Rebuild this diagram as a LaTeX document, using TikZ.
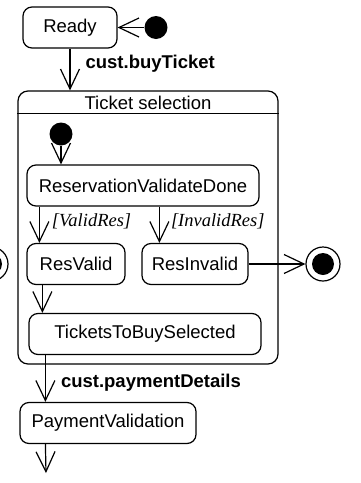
\documentclass[tikz,border=0pt]{standalone}
\usepackage{fontspec}
\setmainfont{Liberation Sans}
\newfontfamily\guardfont{Liberation Serif}
\usetikzlibrary{arrows.meta}
\newcommand\diagsize{\fontsize{18.5}{21}\selectfont}

\tikzset{
  state/.style={draw, rounded corners=9pt, minimum height=41pt, inner sep=0pt, font=\diagsize},
  evt/.style={font=\diagsize\bfseries, inner sep=0pt},
  guard/.style={font=\diagsize\guardfont\itshape, inner sep=0pt},
  startdot/.style={circle, fill=black, minimum size=23pt, inner sep=0pt},
  enddot/.style={circle, draw, fill=white, minimum size=34pt, inner sep=0pt}
}

\begin{document}
\begin{tikzpicture}[x=1pt,y=-1pt,line width=1.2pt,>={Straight Barb[length=20pt,width=19pt]}]
        \useasboundingbox (0,0) rectangle (361,483);

        % the outer states
        \node[state, minimum width=94pt] (ready) at (70,27.5) {Ready};
        \node[startdot] (start) at (156,27.5) {};
        \node[state, minimum width=176pt] (payval) at (108,423) {PaymentValidation};

        % the composite state and its title
        \node[draw, rounded corners=10pt, minimum width=260pt, minimum height=273pt] (sel) at (148,227.5) {};
        \node[font=\diagsize, inner sep=0pt] (seltitle) at (148,103) {Ticket selection};
        \draw ([yshift=-23pt]sel.north west) -- ([yshift=-23pt]sel.north east);

        % the states inside the composite
        \node[startdot] (selstart) at (61,134) {};
        \node[state, minimum width=232pt] (rvd) at (143,185.5) {ReservationValidateDone};
        \node[state, minimum width=98pt] (resvalid) at (76,264) {ResValid};
        \node[state, minimum width=106pt] (resinvalid) at (195,264) {ResInvalid};
        \node[state, minimum width=232pt] (tbs) at (145,334) {TicketsToBuySelected};

        % the final states
        \node[enddot] (fin) at (323,264) {};
        \fill (fin) circle (11pt);
        \node[enddot] (finleft) at (-9,264) {};
        \fill (finleft) circle (11pt);

        \coordinate (out) at (46,473);

        % draw the transitions
        \draw[->] (start.west) -- (ready.east);
        \draw[->] (ready.south) -- (ready.south |- sel.north)
              node[evt, pos=0.35, right=15pt] (buy) {cust.buyTicket};
        \draw[->] (selstart) -- (selstart |- rvd.north);
        \draw[->] ([xshift=13pt]rvd.south west) -- ([xshift=13pt]resvalid.north west)
              node[guard, pos=0.4, right=12pt] (gvalid) {[ValidRes]};
        \draw[->] ([xshift=18pt]resinvalid.north west |- rvd.south) -- ([xshift=18pt]resinvalid.north west)
              node[guard, pos=0.4, right=11pt] (ginvalid) {[InvalidRes]};
        \draw[->] (resinvalid.east) -- (fin.west);
        \draw[->] ([xshift=16pt]resvalid.south west) -- ([xshift=16pt]resvalid.south west |- tbs.north);
        \draw[->] ([xshift=17pt]tbs.south west) -- ([xshift=17pt]tbs.south west |- payval.north)
              node[evt, pos=0.6, right=15pt] (pay) {cust.paymentDetails};
        \draw[->] ([xshift=26pt]payval.south west) -- (out);
    \end{tikzpicture}
\end{document}
